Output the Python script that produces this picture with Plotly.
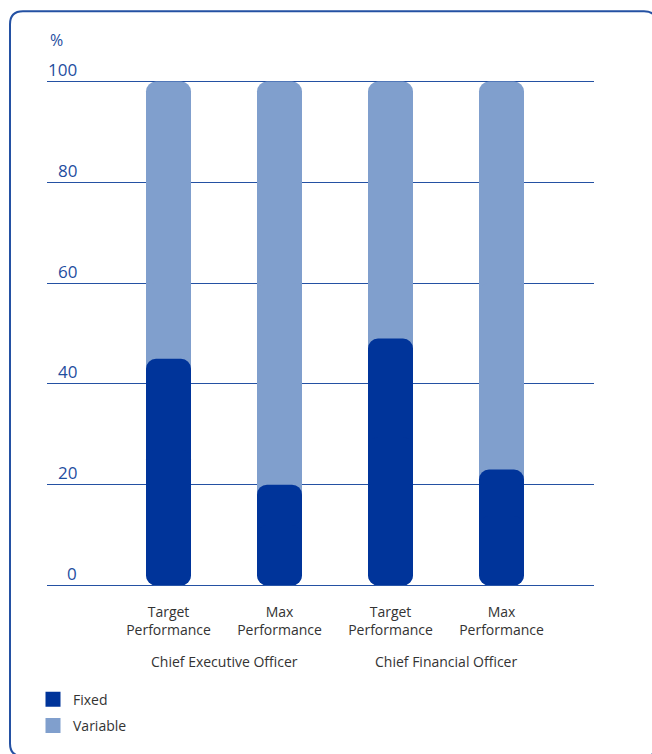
import plotly.graph_objects as go

categories = ["Target<br>Performance", "Max<br>Performance", "Target<br>Performance", "Max<br>Performance"]
groups = ["Chief Executive Officer", "Chief Financial Officer"]
fixed = [45, 20, 49, 23]
variable = [55, 80, 51, 77]
yticks = [0, 20, 40, 60, 80, 100]

DARK = "#00349A"
LIGHT = "#809FCD"
BLUE_TXT = "#1f4e9f"
GRID = "#2451a3"
TXT = "#333333"

W, H = 652, 754
ML, MR, MT, MB = 47, 58, 80, 165
PW, PH = W - ML - MR, H - MT - MB
UNIT = 111.0  # pixels per category step
X0 = -121.5 / UNIT
X1 = X0 + PW / UNIT
BW = 45 / UNIT

def px_x(px):
    return (px - ML) / PW

def px_y(py):
    return (H - MB - py) / PH

xs = list(range(len(categories)))
totals = [f + v for f, v in zip(fixed, variable)]

fig = go.Figure()

def add_rounded(vals, color):
    # upper part rounded at top, lower part rounded at bottom; overlapping
    fig.add_trace(go.Bar(x=xs, y=[v * 0.6 for v in vals], base=[v * 0.4 for v in vals],
                         width=BW, marker=dict(color=color, line=dict(width=0), cornerradius=10),
                         showlegend=False, hoverinfo="skip"))
    fig.add_trace(go.Bar(x=xs, y=[-v * 0.6 for v in vals], base=[v * 0.6 for v in vals],
                         width=BW, marker=dict(color=color, line=dict(width=0), cornerradius=10),
                         showlegend=False, hoverinfo="skip"))

add_rounded(totals, LIGHT)
add_rounded(fixed, DARK)

fig.add_trace(go.Scatter(x=[None], y=[None], mode="markers", name="Fixed", legendgroup="a",
                         marker=dict(symbol="square", size=15, color=DARK)))
fig.add_trace(go.Scatter(x=[None], y=[None], mode="markers", name="Variable", legendgroup="b",
                         marker=dict(symbol="square", size=15, color=LIGHT)))

annotations = []
for t in yticks:
    annotations.append(dict(x=px_x(79), xref="paper", xanchor="right", y=t, yref="y",
                            yanchor="middle", yshift=12, text=str(t), showarrow=False,
                            font=dict(size=17, color=BLUE_TXT)))
annotations.append(dict(x=px_x(48), xref="paper", xanchor="left", y=px_y(40), yref="paper",
                        yanchor="middle", text="%", showarrow=False,
                        font=dict(size=16, color=BLUE_TXT)))
for i, g in enumerate(groups):
    annotations.append(dict(x=(xs[2 * i] + xs[2 * i + 1]) / 2, xref="x", xanchor="center",
                            y=px_y(664), yref="paper", yanchor="middle", text=g,
                            showarrow=False, font=dict(size=14, color=TXT)))

# rounded border frame (right and bottom edges run just off the canvas)
L, T, R, B, r = 10, 11, 657, 759, 13
def P(px, py):
    return f"{px_x(px)},{px_y(py)}"
path = (f"M {P(L, B - r)} L {P(L, T + r)} Q {P(L, T)} {P(L + r, T)} "
        f"L {P(R - r, T)} Q {P(R, T)} {P(R, T + r)} L {P(R, B - r)} "
        f"Q {P(R, B)} {P(R - r, B)} L {P(L + r, B)} Q {P(L, B)} {P(L, B - r)} Z")
shapes = [dict(type="path", xref="paper", yref="paper", path=path,
               line=dict(color="#2451a3", width=2), fillcolor="rgba(0,0,0,0)", layer="below")]

fig.update_layout(
    width=W, height=H,
    margin=dict(l=ML, r=MR, t=MT, b=MB, pad=0),
    paper_bgcolor="white", plot_bgcolor="white",
    barmode="overlay",
    font=dict(family="Open Sans, Lato, sans-serif", color=TXT),
    xaxis=dict(range=[X0, X1], tickvals=xs, ticktext=categories, showgrid=False,
               zeroline=False, showline=False, ticks="", tickfont=dict(size=14, color=TXT),
               ticklabelstandoff=15, fixedrange=True),
    yaxis=dict(range=[-0.3, 100.3], tickvals=yticks, showticklabels=False, showgrid=True,
               gridcolor=GRID, gridwidth=1, zeroline=False, showline=False, ticks="",
               fixedrange=True),
    showlegend=True,
    legend=dict(x=px_x(33), xanchor="left", y=px_y(686), yanchor="top",
                font=dict(size=14, color=TXT), tracegroupgap=5, traceorder="grouped",
                bgcolor="rgba(0,0,0,0)"),
    annotations=annotations,
    shapes=shapes,
)

fig.write_html("out.html")
